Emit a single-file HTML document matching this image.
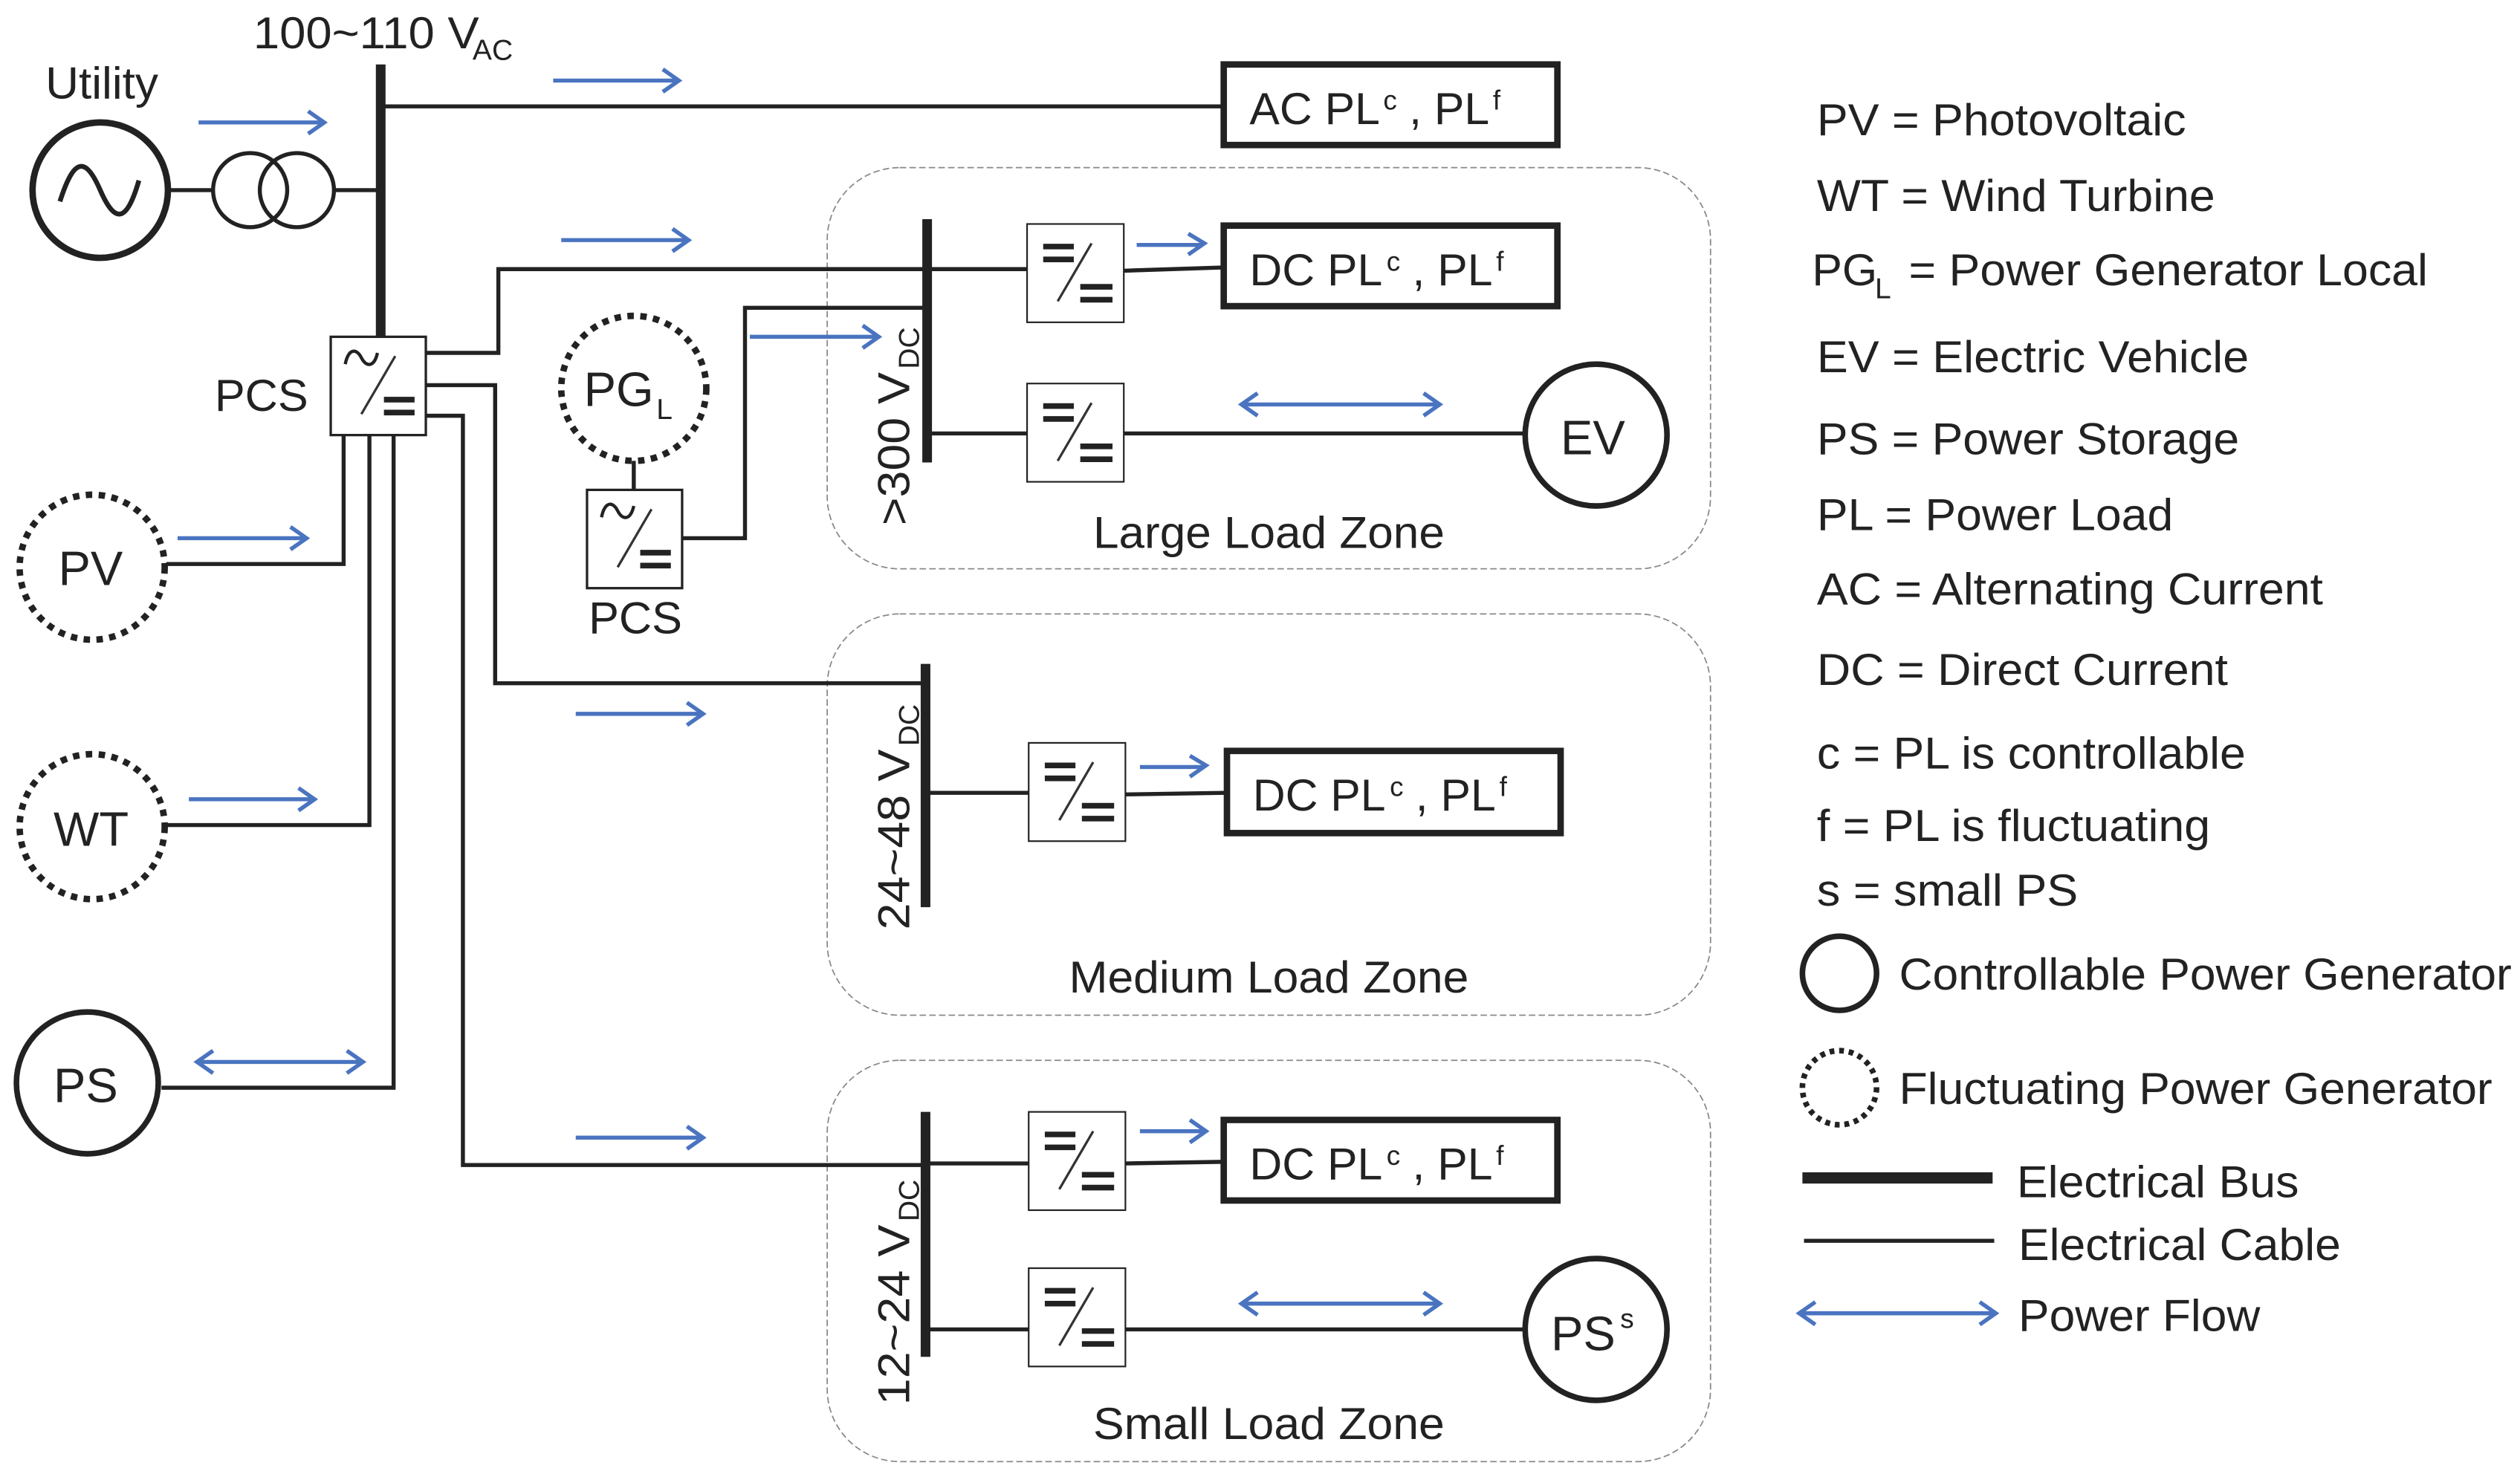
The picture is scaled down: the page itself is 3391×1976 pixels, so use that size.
<!DOCTYPE html>
<html><head><meta charset="utf-8"><style>
html,body{margin:0;padding:0;background:#fff}
svg{display:block}
text{font-family:"Liberation Sans",sans-serif;fill:#222}
</style></head><body>
<svg width="3391" height="1976" viewBox="0 0 1563 911" xmlns="http://www.w3.org/2000/svg">
<defs>
<g id="dd">
<rect x="0" y="0" width="60" height="61" fill="#fff" stroke="#222" stroke-width="1"/>
<line x1="10" y1="14" x2="29" y2="14" stroke="#222" stroke-width="3.5"/>
<line x1="10" y1="22" x2="29" y2="22" stroke="#222" stroke-width="3.5"/>
<line x1="19" y1="48" x2="40" y2="12" stroke="#333" stroke-width="1.5"/>
<line x1="33" y1="39" x2="53" y2="39" stroke="#222" stroke-width="3.5"/>
<line x1="33" y1="47" x2="53" y2="47" stroke="#222" stroke-width="3.5"/>
</g>
<g id="ad">
<rect x="0" y="0" width="59" height="61" fill="#fff" stroke="#222" stroke-width="1.5"/>
<path d="M9,17 C11,7 16,7 19,13 C22,19 27,19 29,10" fill="none" stroke="#222" stroke-width="2"/>
<line x1="19" y1="48" x2="40" y2="12" stroke="#333" stroke-width="1.5"/>
<line x1="33" y1="39" x2="52" y2="39" stroke="#222" stroke-width="3.5"/>
<line x1="33" y1="47" x2="52" y2="47" stroke="#222" stroke-width="3.5"/>
</g>
</defs>
<g fill="none" stroke="#222" stroke-width="3">
<!-- zones -->
<rect x="513" y="104" width="548" height="249" rx="45" stroke="#888" stroke-width="0.8" stroke-dasharray="4,2"/>
<rect x="513" y="381" width="548" height="249" rx="45" stroke="#888" stroke-width="0.8" stroke-dasharray="4,2"/>
<rect x="513" y="658" width="548" height="249" rx="45" stroke="#888" stroke-width="0.8" stroke-dasharray="4,2"/>
<!-- AC bus -->
<line x1="236" y1="40" x2="236" y2="210" stroke-width="6"/>
<polyline points="236,66 758,66" stroke-width="2.5"/>
<circle cx="62" cy="118" r="42" stroke-width="4"/>
<path d="M37,125 C45,100 52,95 62,118 C72,141 79,136 86,112" stroke-width="3"/>
<line x1="104" y1="118" x2="132" y2="118" stroke-width="2.5"/>
<circle cx="155" cy="118" r="23" stroke-width="2.5"/>
<circle cx="184" cy="118" r="23" stroke-width="2.5"/>
<line x1="207" y1="118" x2="236" y2="118" stroke-width="2.5"/>
<!-- PCS connections -->
<polyline points="263,219 309,219 309,167 575,167" stroke-width="2.5"/>
<polyline points="263,239 307,239 307,424 575,424" stroke-width="2.5"/>
<polyline points="263,258 287,258 287,723 575,723" stroke-width="2.5"/>
<polyline points="213,270 213,350 103,350" stroke-width="2.5"/>
<polyline points="229,270 229,512 101,512" stroke-width="2.5"/>
<polyline points="244,270 244,675 100,675" stroke-width="2.5"/>
<!-- PG_L -->
<circle cx="393" cy="241" r="45" stroke-width="4" stroke-dasharray="4,4"/>
<line x1="393" y1="286" x2="393" y2="304" stroke-width="2.5"/>
<polyline points="423,334 462,334 462,191 575,191" stroke-width="2.5"/>
<!-- sources -->
<circle cx="57" cy="352" r="45" stroke-width="4" stroke-dasharray="4,4"/>
<circle cx="57" cy="513" r="45" stroke-width="4" stroke-dasharray="4,4"/>
<circle cx="54" cy="672" r="44" stroke-width="3.5"/>
<!-- large zone -->
<line x1="575" y1="136" x2="575" y2="287" stroke-width="6"/>
<line x1="575" y1="167" x2="637" y2="167" stroke-width="2.5"/>
<line x1="697" y1="168" x2="758" y2="166" stroke-width="2.5"/>
<line x1="575" y1="269" x2="637" y2="269" stroke-width="2.5"/>
<line x1="697" y1="269" x2="946" y2="269" stroke-width="2.5"/>
<circle cx="990" cy="270" r="44" stroke-width="3.5"/>
<!-- medium -->
<line x1="574" y1="412" x2="574" y2="563" stroke-width="6"/>
<line x1="574" y1="492" x2="638" y2="492" stroke-width="2.5"/>
<line x1="698" y1="493" x2="760" y2="492" stroke-width="2.5"/>
<!-- small -->
<line x1="574" y1="690" x2="574" y2="842" stroke-width="6"/>
<line x1="574" y1="722" x2="638" y2="722" stroke-width="2.5"/>
<line x1="698" y1="722" x2="758" y2="721" stroke-width="2.5"/>
<line x1="574" y1="825" x2="638" y2="825" stroke-width="2.5"/>
<line x1="698" y1="825" x2="946" y2="825" stroke-width="2.5"/>
<circle cx="990" cy="825" r="44" stroke-width="3.5"/>
<!-- load boxes -->
<rect x="759" y="40" width="207" height="50" stroke-width="4"/>
<rect x="759" y="140" width="207" height="50" stroke-width="4"/>
<rect x="761" y="466" width="207" height="51" stroke-width="4"/>
<rect x="759" y="695" width="207" height="50" stroke-width="4"/>
<!-- legend -->
<circle cx="1141" cy="604" r="23" stroke-width="3.5"/>
<circle cx="1141" cy="675" r="23" stroke-width="3.5" stroke-dasharray="3,3"/>
<line x1="1118" y1="731" x2="1236" y2="731" stroke-width="7"/>
<line x1="1119" y1="770" x2="1237" y2="770" stroke-width="2.5"/>
</g>
<use href="#ad" x="205" y="209"/>
<use href="#ad" x="364" y="304"/>
<use href="#dd" x="637" y="139"/>
<use href="#dd" x="637" y="238"/>
<use href="#dd" x="638" y="461"/>
<use href="#dd" x="638" y="690"/>
<use href="#dd" x="638" y="787"/>
<!-- arrows -->
<g fill="none" stroke="#4a74c0" stroke-width="2.5">
<path d="M123,76H200M191,69L201,76L191,83"/>
<path d="M343,50H420M411,43L421,50L411,57"/>
<path d="M348,149H426M417,142L427,149L417,156"/>
<path d="M465,209H544M535,202L545,209L535,216"/>
<path d="M705,152H746M737,145L747,151L737,158"/>
<path d="M770,251H893M780,244L770,251L780,258M883,244L893,251L883,258"/>
<path d="M110,334H189M180,327L190,334L180,341"/>
<path d="M117,496H194M185,489L195,496L185,503"/>
<path d="M122,659H225M132,652L122,659L132,666M215,652L225,659L215,666"/>
<path d="M357,443H435M426,436L436,443L426,450"/>
<path d="M707,476H747M738,469L748,475L738,482"/>
<path d="M357,706H435M426,699L436,706L426,713"/>
<path d="M707,702H747M738,695L748,702L738,709"/>
<path d="M770,809H893M780,802L770,809L780,816M883,802L893,809L883,816"/>
<path d="M1116,815H1238M1126,808L1116,815L1126,822M1228,808L1238,815L1228,822"/>
</g>
<!-- text -->
<g font-size="28">
<text x="157" y="30" textLength="140" lengthAdjust="spacingAndGlyphs">100~110 V</text><text x="293" y="37" font-size="18">AC</text>
<text x="28" y="61" textLength="70" lengthAdjust="spacingAndGlyphs">Utility</text>
<text x="133" y="255" textLength="58" lengthAdjust="spacingAndGlyphs">PCS</text>
<text x="365" y="393" textLength="58" lengthAdjust="spacingAndGlyphs">PCS</text>
<text x="362" y="252" font-size="30">PG</text><text x="407" y="260" font-size="18">L</text>
<text x="36" y="363" font-size="30">PV</text>
<text x="33" y="525" font-size="30">WT</text>
<text x="33" y="684" font-size="30">PS</text>
<text x="968" y="282" font-size="30">EV</text>
<text x="962" y="838" font-size="30">PS</text><text x="1005" y="824" font-size="17">s</text>
<text x="775" y="77">AC PL</text><text x="858" y="68" font-size="17">c</text><text x="874" y="77">, PL</text><text x="926" y="68" font-size="17">f</text>
<text x="775" y="177">DC PL</text><text x="860" y="168" font-size="17">c</text><text x="876" y="177">, PL</text><text x="928" y="168" font-size="17">f</text>
<text x="777" y="503">DC PL</text><text x="862" y="494" font-size="17">c</text><text x="878" y="503">, PL</text><text x="930" y="494" font-size="17">f</text>
<text x="775" y="732">DC PL</text><text x="860" y="723" font-size="17">c</text><text x="876" y="732">, PL</text><text x="928" y="723" font-size="17">f</text>
<text x="678" y="340" textLength="218" lengthAdjust="spacingAndGlyphs">Large Load Zone</text>
<text x="663" y="616" textLength="248" lengthAdjust="spacingAndGlyphs">Medium Load Zone</text>
<text x="678" y="893" textLength="218" lengthAdjust="spacingAndGlyphs">Small Load Zone</text>
<g transform="translate(564,326) rotate(-90)"><text x="0" y="0" textLength="95" lengthAdjust="spacingAndGlyphs">&gt;300 V</text><text x="97" y="6" font-size="18">DC</text></g>
<g transform="translate(564,577) rotate(-90)"><text x="0" y="0" textLength="112" lengthAdjust="spacingAndGlyphs">24~48 V</text><text x="114" y="6" font-size="18">DC</text></g>
<g transform="translate(564,872) rotate(-90)"><text x="0" y="0" textLength="112" lengthAdjust="spacingAndGlyphs">12~24 V</text><text x="114" y="6" font-size="18">DC</text></g>
<text x="1127" y="84" textLength="229" lengthAdjust="spacingAndGlyphs">PV = Photovoltaic</text>
<text x="1127" y="131" textLength="247" lengthAdjust="spacingAndGlyphs">WT = Wind Turbine</text>
<text x="1124" y="177">PG</text><text x="1163" y="185" font-size="18">L</text><text x="1184" y="177" textLength="322" lengthAdjust="spacingAndGlyphs">= Power Generator Local</text>
<text x="1127" y="231" textLength="268" lengthAdjust="spacingAndGlyphs">EV = Electric Vehicle</text>
<text x="1127" y="282" textLength="262" lengthAdjust="spacingAndGlyphs">PS = Power Storage</text>
<text x="1127" y="329" textLength="221" lengthAdjust="spacingAndGlyphs">PL = Power Load</text>
<text x="1127" y="375" textLength="314" lengthAdjust="spacingAndGlyphs">AC = Alternating Current</text>
<text x="1127" y="425" textLength="255" lengthAdjust="spacingAndGlyphs">DC = Direct Current</text>
<text x="1127" y="477" textLength="266" lengthAdjust="spacingAndGlyphs">c = PL is controllable</text>
<text x="1127" y="522" textLength="244" lengthAdjust="spacingAndGlyphs">f = PL is fluctuating</text>
<text x="1127" y="562" textLength="162" lengthAdjust="spacingAndGlyphs">s = small PS</text>
<text x="1178" y="614" textLength="380" lengthAdjust="spacingAndGlyphs">Controllable Power Generator</text>
<text x="1178" y="685" textLength="368" lengthAdjust="spacingAndGlyphs">Fluctuating Power Generator</text>
<text x="1251" y="743" textLength="175" lengthAdjust="spacingAndGlyphs">Electrical Bus</text>
<text x="1252" y="782" textLength="200" lengthAdjust="spacingAndGlyphs">Electrical Cable</text>
<text x="1252" y="826" textLength="150" lengthAdjust="spacingAndGlyphs">Power Flow</text>
</g>
</svg>
</body></html>
